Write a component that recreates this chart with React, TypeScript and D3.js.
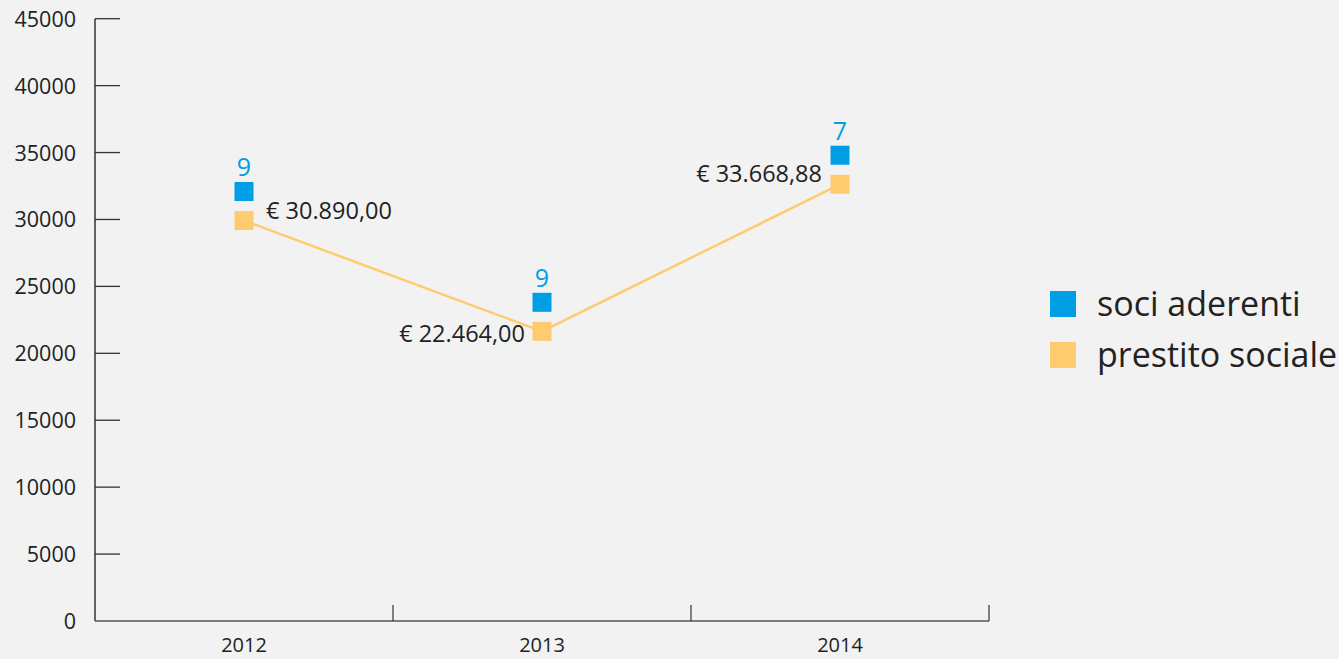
import React from "react";
import * as d3 from "d3";

const years = ["2012", "2013", "2014"];
const prestitoPlotted = [29920, 21640, 32630];
const prestitoLabels = ["€ 30.890,00", "€ 22.464,00", "€ 33.668,88"];
const sociPlotted = [32090, 23810, 34800];
const sociLabels = ["9", "9", "7"];
const yTicks = [0, 5000, 10000, 15000, 20000, 25000, 30000, 35000, 40000, 45000];
const legendItems = ["soci aderenti", "prestito sociale"];

const BLUE = "#009fe3";
const ORANGE = "#fecb6e";
const TEXT = "#222";
const AXIS = "#333";
const FONT = "'Open Sans', 'Noto Sans', sans-serif";

export default function App() {
  const W = 1339, H = 659;
  const left = 95, right = 989, top = 18.7, bottom = 621;
  const x = d3.scaleBand<string>().domain(years).range([left, right]).padding(0);
  const y = d3.scaleLinear().domain([0, 45000]).range([bottom, top]);
  const cx = (i: number) => (x(years[i]) as number) + x.bandwidth() / 2;
  const line = d3
    .line<number>()
    .x((_, i) => cx(i))
    .y((d) => y(d));
  const sq = 19;
  const labelPos: { dx: number; anchor: "start" | "end"; dy: number }[] = [
    { dx: 22, anchor: "start", dy: -2 },
    { dx: -17, anchor: "end", dy: 11 },
    { dx: -18, anchor: "end", dy: -2 },
  ];
  return (
    <div style={{ position: "absolute", left: 0, top: 0 }}>
      <svg width={W} height={H} style={{ display: "block", background: "#f2f2f2" }}>
        <rect x={0} y={0} width={W} height={H} fill="#f2f2f2" />
        {/* y axis */}
        <line x1={left} x2={left} y1={top} y2={bottom} stroke={AXIS} strokeWidth={1.5} />
        {yTicks.map((t) => (
          <g key={t}>
            {t > 0 && <line x1={left} x2={left + 25} y1={y(t)} y2={y(t)} stroke={AXIS} strokeWidth={1.3} />}
            <text x={76} y={y(t) + 8} textAnchor="end" fontFamily={FONT} fontSize={21.5} fill={TEXT}>
              {t}
            </text>
          </g>
        ))}
        {/* x axis */}
        <line x1={left} x2={right} y1={bottom} y2={bottom} stroke="#555" strokeWidth={1.5} />
        {years.map((yr, i) => (
          <g key={yr}>
            <line
              x1={(x(yr) as number) + x.bandwidth()}
              x2={(x(yr) as number) + x.bandwidth()}
              y1={bottom}
              y2={bottom - 16}
              stroke={AXIS}
              strokeWidth={1.2}
            />
            <text x={cx(i)} y={652} textAnchor="middle" fontFamily={FONT} fontSize={20} fill={TEXT}>
              {yr}
            </text>
          </g>
        ))}
        {/* prestito line */}
        <path d={line(prestitoPlotted) || ""} fill="none" stroke={ORANGE} strokeWidth={2.5} />
        {prestitoPlotted.map((v, i) => (
          <rect key={"p" + i} x={cx(i) - sq / 2} y={y(v) - sq / 2} width={sq} height={sq} fill={ORANGE} />
        ))}
        {sociPlotted.map((v, i) => (
          <g key={"s" + i}>
            <rect x={cx(i) - sq / 2} y={y(v) - sq / 2} width={sq} height={sq} fill={BLUE} />
            <text x={cx(i)} y={y(v) - 15} textAnchor="middle" fontFamily={FONT} fontSize={25} fill={BLUE}>
              {sociLabels[i]}
            </text>
          </g>
        ))}
        {prestitoPlotted.map((v, i) => (
          <text
            key={"pl" + i}
            x={cx(i) + labelPos[i].dx}
            y={y(v) + labelPos[i].dy}
            textAnchor={labelPos[i].anchor}
            fontFamily={FONT}
            fontSize={23.5}
            fill={TEXT}
          >
            {prestitoLabels[i]}
          </text>
        ))}
        {/* legend */}
        {legendItems.map((name, i) => (
          <g key={name} transform={`translate(1050, ${291 + i * 51})`}>
            <rect x={0} y={0} width={26} height={26} fill={i === 0 ? BLUE : ORANGE} />
            <text x={47} y={25} fontFamily={FONT} fontSize={34} fill={TEXT}>
              {name}
            </text>
          </g>
        ))}
      </svg>
    </div>
  );
}
